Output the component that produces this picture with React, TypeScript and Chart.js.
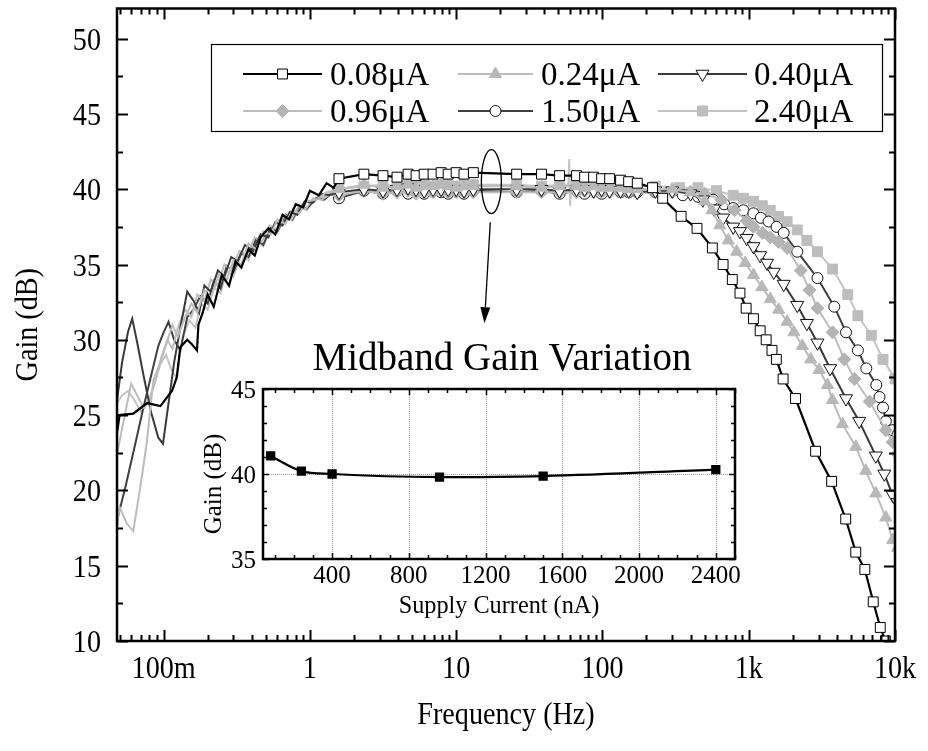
import React, { useEffect, useRef } from 'react';
import { Chart, registerables } from 'chart.js';

Chart.register(...registerables);

const FONT = "'Liberation Serif', 'Times New Roman', serif";

// ---------- main chart axes ----------
const xTickValues = [0.1, 1, 10, 100, 1000, 10000];
const xTickLabels = ['100m', '1', '10', '100', '1k', '10k'];
const yTickValues = [10, 15, 20, 25, 30, 35, 40, 45, 50];
const xMin = 0.048;
const xMax = 10000;
const yMin = 10;
const yMax = 52;
const xTitle = 'Frequency (Hz)';
const yTitle = 'Gain (dB)';

const seriesLabels = ['0.08μA', '0.24μA', '0.40μA', '0.96μA', '1.50μA', '2.40μA'];
const markFrom = 1.5; // markers drawn from this frequency on

// shared midband sweep frequencies (Hz)
const flatF = [1.58, 2.34, 3.16, 3.94, 4.69, 5.32, 6.04, 6.95, 7.89, 8.81, 10, 11.3, 13.1, 25.9, 38.3, 50.9, 66.5, 75.5, 87, 98.7, 112, 133, 151, 173];

// 0.08 uA
const lowF_A = [0.048, 0.050, 0.062, 0.077, 0.095, 0.114, 0.123, 0.130, 0.145, 0.156, 0.169, 0.173, 0.185, 0.20, 0.22, 0.25, 0.28, 0.31, 0.34, 0.38, 0.42, 0.46, 0.52, 0.58, 0.65, 0.72, 0.80, 0.90, 1.0, 1.15, 1.3, 1.45];
const lowG_A = [23.8, 25.0, 25.1, 25.8, 25.6, 26.6, 27.5, 29.5, 30.0, 29.7, 29.3, 31.0, 31.8, 33.0, 32.2, 34.3, 33.6, 35.2, 34.8, 36.0, 35.6, 36.8, 37.4, 37.0, 38.3, 38.0, 39.0, 38.8, 39.9, 39.6, 40.4, 40.1];
const flatG_A = [40.7, 41.0, 40.9, 40.8, 41.0, 40.9, 41.0, 41.0, 41.1, 41.0, 41.1, 41.0, 41.1, 41.0, 41.0, 40.9, 40.9, 40.8, 40.8, 40.7, 40.7, 40.6, 40.5, 40.4];
const rollF_A = [220, 258, 345, 443, 564, 668, 772, 871, 960, 1077, 1197, 1316, 1442, 1545, 1718, 2089, 2866, 3689, 4603, 5392, 6221, 7098, 7928, 8600];
const rollG_A = [40.1, 39.4, 38.2, 37.4, 36.1, 35.0, 34.0, 33.1, 32.1, 31.4, 30.6, 30.0, 29.3, 28.7, 27.4, 26.1, 22.6, 20.6, 18.1, 15.9, 14.75, 12.6, 10.9, 10.0];

// 0.24 uA
const lowF_B = [0.048, 0.050, 0.056, 0.062, 0.070, 0.077, 0.085, 0.095, 0.105, 0.115, 0.125, 0.14, 0.155, 0.17, 0.19, 0.21, 0.24, 0.27, 0.30, 0.34, 0.38, 0.43, 0.48, 0.54, 0.60, 0.68, 0.76, 0.85, 0.95, 1.1, 1.3, 1.45];
const lowG_B = [17.5, 18.9, 17.8, 17.3, 20.5, 23.3, 27.3, 28.5, 29.8, 31.0, 30.2, 31.5, 32.4, 31.8, 33.3, 32.8, 34.4, 34.0, 35.3, 35.0, 36.4, 36.0, 37.2, 37.0, 38.0, 37.7, 38.6, 38.4, 39.2, 39.3, 39.8, 39.9];
const flatG_B = [40.0, 40.3, 40.1, 40.2, 40.3, 40.1, 40.2, 40.2, 40.3, 40.2, 40.1, 40.2, 40.2, 40.2, 40.1, 40.2, 40.2, 40.1, 40.2, 40.1, 40.1, 40.1, 40.0, 40.0];
const rollF_B = [230, 300, 400, 500, 560, 634, 724, 827, 945, 1077, 1230, 1404, 1603, 1831, 2036, 2325, 2654, 3030, 3459, 3732, 4373, 5396, 6313, 7393, 8660, 9630, 10400];
const rollG_B = [40.0, 40.0, 39.8, 39.2, 38.6, 37.6, 36.6, 35.85, 35.1, 34.3, 33.5, 32.7, 32.0, 31.2, 30.5, 29.6, 28.7, 28.0, 27.0, 26.0, 24.4, 22.9, 21.3, 19.8, 18.2, 16.7, 16.2];

// 0.40 uA
const lowF_C = [0.048, 0.052, 0.057, 0.061, 0.066, 0.073, 0.082, 0.092, 0.099, 0.107, 0.118, 0.13, 0.145, 0.16, 0.175, 0.19, 0.21, 0.235, 0.26, 0.29, 0.32, 0.36, 0.41, 0.46, 0.52, 0.58, 0.65, 0.73, 0.82, 0.92, 1.05, 1.2, 1.35];
const lowG_C = [26.0, 28.5, 30.5, 31.4, 29.8, 27.6, 25.2, 23.5, 23.1, 25.5, 28.5, 30.8, 33.2, 32.6, 31.8, 33.6, 33.2, 34.6, 34.2, 35.5, 35.2, 36.3, 35.9, 37.0, 36.8, 37.8, 37.6, 38.5, 38.3, 39.2, 39.1, 39.7, 39.6];
const flatG_C = [39.8, 40.0, 39.9, 40.0, 40.1, 40.0, 39.9, 40.0, 40.0, 40.0, 40.0, 39.9, 40.0, 40.0, 40.0, 39.9, 40.0, 40.0, 39.9, 40.0, 39.9, 39.9, 39.9, 39.8];
const rollF_C = [230, 300, 400, 486, 580, 668, 783, 871, 968, 1077, 1197, 1334, 1483, 1735, 2147, 2500, 2951, 3600, 4625, 5691, 7393, 8450, 9630, 10400];
const rollG_C = [39.9, 39.9, 39.7, 39.3, 38.7, 38.1, 37.5, 37.2, 36.75, 36.2, 35.6, 35.1, 34.5, 33.7, 32.3, 31.1, 29.8, 28.1, 26.1, 24.6, 22.3, 21.1, 19.7, 19.2];

// 0.96 uA
const lowF_D = [0.048, 0.053, 0.060, 0.066, 0.073, 0.080, 0.088, 0.097, 0.106, 0.115, 0.125, 0.14, 0.155, 0.17, 0.19, 0.21, 0.235, 0.26, 0.29, 0.33, 0.37, 0.42, 0.47, 0.53, 0.60, 0.67, 0.75, 0.84, 0.94, 1.05, 1.2, 1.4];
const lowG_D = [22.4, 24.5, 27.1, 26.3, 25.5, 26.0, 27.3, 28.9, 30.0, 29.4, 30.8, 32.0, 31.5, 33.0, 32.6, 34.0, 33.6, 35.0, 34.6, 35.9, 35.6, 36.8, 36.5, 37.6, 37.3, 38.3, 38.0, 38.9, 38.7, 39.4, 39.3, 39.7];
const flatG_D = [39.6, 39.9, 39.7, 39.8, 39.9, 39.7, 39.8, 39.8, 39.9, 39.8, 39.8, 39.8, 39.8, 39.8, 39.8, 39.8, 39.8, 39.9, 39.8, 39.8, 39.8, 39.8, 39.8, 39.8];
const rollF_D = [230, 300, 400, 500, 650, 800, 968, 1077, 1240, 1404, 1600, 1831, 2265, 2600, 2951, 3741, 4508, 5286, 6705, 8660, 9630, 10400];
const rollG_D = [39.8, 39.8, 39.8, 39.7, 39.3, 38.6, 37.9, 37.5, 37.1, 36.8, 36.5, 36.1, 34.6, 33.3, 32.1, 30.5, 28.7, 27.4, 25.9, 24.0, 23.2, 22.4];

// 1.50 uA
const lowF_E = [0.048, 0.055, 0.063, 0.072, 0.082, 0.092, 0.100, 0.108, 0.118, 0.13, 0.145, 0.16, 0.178, 0.20, 0.22, 0.245, 0.27, 0.30, 0.34, 0.38, 0.43, 0.48, 0.54, 0.60, 0.68, 0.76, 0.85, 0.95, 1.1, 1.25, 1.4];
const lowG_E = [18.0, 20.3, 22.8, 25.3, 27.6, 29.6, 30.5, 31.2, 30.0, 29.3, 31.5, 32.0, 32.9, 32.4, 33.9, 33.4, 34.9, 34.5, 35.8, 35.5, 36.7, 36.3, 37.5, 37.2, 38.3, 38.0, 38.9, 38.7, 39.4, 39.3, 39.7];
const flatG_E = [39.4, 39.9, 39.7, 39.9, 39.7, 39.9, 39.7, 39.9, 39.8, 39.7, 39.9, 39.7, 39.9, 39.8, 39.9, 39.7, 39.9, 39.7, 39.9, 39.7, 39.9, 39.8, 39.8, 39.8];
const rollF_E = [230, 354, 450, 571, 680, 783, 920, 1077, 1210, 1368, 1550, 1735, 2147, 2951, 3846, 4625, 5573, 6367, 7452, 7834, 8280, 8660, 9630, 10400];
const rollG_E = [39.8, 39.6, 39.5, 39.3, 39.0, 38.75, 38.6, 38.4, 38.1, 37.85, 37.5, 37.1, 35.85, 34.1, 32.2, 30.5, 29.3, 28.1, 27.0, 26.2, 25.5, 24.6, 24.0, 23.7];

// 2.40 uA
const lowF_F = [0.048, 0.052, 0.057, 0.063, 0.070, 0.078, 0.086, 0.095, 0.104, 0.113, 0.122, 0.135, 0.15, 0.165, 0.18, 0.20, 0.22, 0.245, 0.27, 0.30, 0.34, 0.38, 0.43, 0.48, 0.54, 0.60, 0.68, 0.76, 0.85, 0.95, 1.1, 1.25, 1.4];
const lowG_F = [25.8, 26.3, 26.6, 26.0, 25.2, 25.8, 27.0, 28.4, 29.0, 28.0, 27.5, 30.2, 31.3, 30.8, 32.4, 32.0, 33.5, 33.1, 34.6, 34.2, 35.7, 35.3, 36.6, 36.2, 37.4, 37.1, 38.2, 37.9, 38.8, 38.6, 39.4, 39.5, 39.8];
const flatG_F = [40.0, 40.2, 40.3, 40.2, 40.3, 40.2, 40.3, 40.2, 40.3, 40.3, 40.2, 40.3, 40.3, 40.3, 40.2, 40.3, 40.3, 40.2, 40.3, 40.2, 40.2, 40.2, 40.2, 40.2];
const rollF_F = [230, 336, 450, 601, 783, 920, 1077, 1240, 1404, 1600, 1831, 2147, 2500, 2951, 3741, 4753, 5573, 6890, 8280, 10000, 10400];
const rollG_F = [40.2, 40.1, 40.1, 39.9, 39.6, 39.4, 39.2, 38.9, 38.6, 38.2, 37.85, 37.3, 36.6, 35.85, 34.7, 33.0, 31.6, 30.3, 28.7, 27.4, 27.0];

// narrow glitch in the 2.40 uA trace
const spikeF = [58.4, 59.3, 60.1, 61.0];
const spikeG = [40.2, 42.0, 38.9, 40.2];

// annotation (ellipse around the midband + arrow to the inset)
const ellipseF = 17.4;
const ellipseG = 40.5;
const arrowFromF = 17.1;
const arrowFromG = 37.8;
const arrowToF = 15.6;
const arrowToG = 31.1;

// ---------- inset ----------
const insetTitle = 'Midband Gain Variation';
const insetXTitle = 'Supply Current (nA)';
const insetYTitle = 'Gain (dB)';
const insetCurrents = [80, 240, 400, 960, 1500, 2400];
const insetGains = [41.06, 40.17, 40.0, 39.82, 39.88, 40.26];
const insetXTicks = [400, 800, 1200, 1600, 2000, 2400];
const insetYTicks = [35, 40, 45];
const insetXMin = 40;
const insetXMax = 2500;
const insetYMin = 35;
const insetYMax = 45;

type St = { line: string; lw: number; shape: string; rot: number; r: number; fill: string; edge: string };
const styles: St[] = [
  { line: '#000000', lw: 2.2, shape: 'rect', rot: 0, r: 7, fill: '#ffffff', edge: '#000000' },
  { line: '#bcbcbc', lw: 2, shape: 'triangle', rot: 0, r: 7, fill: '#b8b8b8', edge: '#b8b8b8' },
  { line: '#3a3a3a', lw: 2, shape: 'triangle', rot: 180, r: 7.5, fill: '#ffffff', edge: '#111111' },
  { line: '#bdbdbd', lw: 2, shape: 'rectRot', rot: 0, r: 6.5, fill: '#b4b4b4', edge: '#b4b4b4' },
  { line: '#404040', lw: 2, shape: 'circle', rot: 0, r: 5.5, fill: '#ffffff', edge: '#111111' },
  { line: '#c4c4c4', lw: 2, shape: 'rect', rot: 0, r: 7, fill: '#bdbdbd', edge: '#bdbdbd' },
];

function build(lf: number[], lg: number[], fg: number[], rf: number[], rg: number[]) {
  return [
    ...lf.map((x, i) => ({ x, y: lg[i] })),
    ...flatF.map((x, i) => ({ x, y: fg[i] })),
    ...rf.map((x, i) => ({ x, y: rg[i] })),
  ];
}

const seriesData = [
  build(lowF_A, lowG_A, flatG_A, rollF_A, rollG_A),
  build(lowF_B, lowG_B, flatG_B, rollF_B, rollG_B),
  build(lowF_C, lowG_C, flatG_C, rollF_C, rollG_C),
  build(lowF_D, lowG_D, flatG_D, rollF_D, rollG_D),
  build(lowF_E, lowG_E, flatG_E, rollF_E, rollG_E),
  build(lowF_F, lowG_F, flatG_F, rollF_F, rollG_F),
];

// text helper: baseline-anchored, optional horizontal squeeze and rotation
function drawText(
  ctx: CanvasRenderingContext2D,
  text: string,
  x: number,
  y: number,
  size: number,
  sx: number,
  align: CanvasTextAlign,
  rot = 0
) {
  ctx.save();
  ctx.translate(x, y);
  if (rot) ctx.rotate(rot);
  ctx.scale(sx, 1);
  ctx.font = `${size}px ${FONT}`;
  ctx.textAlign = align;
  ctx.textBaseline = 'alphabetic';
  ctx.fillStyle = '#000';
  ctx.fillText(text, 0, 0);
  ctx.restore();
}

function drawMarker(ctx: CanvasRenderingContext2D, st: St, x: number, y: number) {
  const r = st.r;
  ctx.beginPath();
  if (st.shape === 'rect') {
    const s = r * Math.SQRT1_2;
    ctx.rect(x - s, y - s, 2 * s, 2 * s);
  } else if (st.shape === 'circle') {
    ctx.arc(x, y, r, 0, Math.PI * 2);
  } else if (st.shape === 'rectRot') {
    ctx.moveTo(x, y - r);
    ctx.lineTo(x + r, y);
    ctx.lineTo(x, y + r);
    ctx.lineTo(x - r, y);
    ctx.closePath();
  } else {
    let a = (st.rot * Math.PI) / 180;
    for (let k = 0; k < 3; k++) {
      const px = x + Math.sin(a) * r;
      const py = y - Math.cos(a) * r;
      if (k === 0) ctx.moveTo(px, py);
      else ctx.lineTo(px, py);
      a += (2 * Math.PI) / 3;
    }
    ctx.closePath();
  }
  ctx.fillStyle = st.fill;
  ctx.fill();
  ctx.lineWidth = 1;
  ctx.strokeStyle = st.edge;
  ctx.stroke();
}

const AX_SIZE = 32;
const AX_SX = 0.88;

const mainDecor = {
  id: 'mainDecor',
  afterDatasetsDraw(chart: any) {
    const { ctx, chartArea: ca, scales } = chart;
    const xs = scales.x;
    const ys = scales.y;
    ctx.save();

    // ellipse + arrow
    const ex = xs.getPixelForValue(ellipseF);
    const ey = ys.getPixelForValue(ellipseG);
    ctx.strokeStyle = '#000';
    ctx.lineWidth = 1.3;
    ctx.beginPath();
    ctx.ellipse(ex, ey, 10, 32, 0, 0, Math.PI * 2);
    ctx.stroke();
    const ax0 = xs.getPixelForValue(arrowFromF);
    const ay0 = ys.getPixelForValue(arrowFromG);
    const ax1 = xs.getPixelForValue(arrowToF);
    const ay1 = ys.getPixelForValue(arrowToG);
    const ang = Math.atan2(ay1 - ay0, ax1 - ax0);
    const hl = 16;
    const hw = 5;
    ctx.beginPath();
    ctx.moveTo(ax0, ay0);
    ctx.lineTo(ax1 - Math.cos(ang) * hl, ay1 - Math.sin(ang) * hl);
    ctx.stroke();
    ctx.beginPath();
    ctx.moveTo(ax1, ay1);
    ctx.lineTo(ax1 - Math.cos(ang) * hl - Math.sin(ang) * hw, ay1 - Math.sin(ang) * hl + Math.cos(ang) * hw);
    ctx.lineTo(ax1 - Math.cos(ang) * hl + Math.sin(ang) * hw, ay1 - Math.sin(ang) * hl - Math.cos(ang) * hw);
    ctx.closePath();
    ctx.fillStyle = '#000';
    ctx.fill();

    // ticks (inward) on all four sides
    ctx.strokeStyle = '#000';
    ctx.lineWidth = 2;
    const xTicksAll: { v: number; major: boolean }[] = [];
    for (let e = -2; e <= 4; e++) {
      const d = Math.pow(10, e);
      for (let m = 1; m < 10; m++) {
        const v = d * m;
        if (v >= xMin && v <= xMax * 1.0001) xTicksAll.push({ v, major: m === 1 });
      }
    }
    xTicksAll.forEach((t) => {
      const px = Math.round(xs.getPixelForValue(t.v)) + 0.5;
      const len = t.major ? 11 : 6;
      ctx.beginPath();
      ctx.moveTo(px, ca.bottom);
      ctx.lineTo(px, ca.bottom - len);
      ctx.moveTo(px, ca.top);
      ctx.lineTo(px, ca.top + len);
      ctx.stroke();
    });
    for (let v = yMin; v <= yMax; v += 2.5) {
      const py = Math.round(ys.getPixelForValue(v)) + 0.5;
      const len = v % 5 === 0 ? 11 : 6;
      ctx.beginPath();
      ctx.moveTo(ca.left, py);
      ctx.lineTo(ca.left + len, py);
      ctx.moveTo(ca.right, py);
      ctx.lineTo(ca.right - len, py);
      ctx.stroke();
    }

    // frame
    ctx.lineWidth = 2.5;
    ctx.strokeRect(ca.left, ca.top, ca.right - ca.left, ca.bottom - ca.top);

    // tick labels from the scales
    xTickValues.forEach((v, i) => {
      drawText(ctx, xTickLabels[i], xs.getPixelForValue(v), ca.bottom + 37, AX_SIZE, AX_SX, 'center');
    });
    yTickValues.forEach((v) => {
      drawText(ctx, String(v), ca.left - 16, ys.getPixelForValue(v) + 11, AX_SIZE, AX_SX, 'right');
    });
    // axis titles
    drawText(ctx, xTitle, (ca.left + ca.right) / 2, 724, AX_SIZE, AX_SX, 'center');
    drawText(ctx, yTitle, 37, (ca.top + ca.bottom) / 2, AX_SIZE, AX_SX, 'center', -Math.PI / 2);

    // legend
    const bx = 211, by = 44, bw = 671, bh = 87;
    ctx.fillStyle = '#fff';
    ctx.fillRect(bx, by, bw, bh);
    ctx.lineWidth = 1.2;
    ctx.strokeStyle = '#000';
    ctx.strokeRect(bx + 0.5, by + 0.5, bw, bh);
    const lineX0 = [243, 458, 658];
    const lineX1 = [322, 533, 747];
    const textX = [330, 541, 754];
    const rowY = [74, 111];
    seriesLabels.forEach((lab, i) => {
      const st = styles[i];
      const c = i % 3;
      const y0 = rowY[Math.floor(i / 3)];
      ctx.strokeStyle = st.line;
      ctx.lineWidth = st.lw;
      ctx.beginPath();
      ctx.moveTo(lineX0[c], y0);
      ctx.lineTo(lineX1[c], y0);
      ctx.stroke();
      drawMarker(ctx, st, (lineX0[c] + lineX1[c]) / 2, y0);
      drawText(ctx, lab, textX[c], y0 + 11, 33, 1, 'left');
    });

    ctx.restore();
  },
};

const insetDecor = {
  id: 'insetDecor',
  beforeDatasetsDraw(chart: any) {
    const { ctx, chartArea: ca, scales } = chart;
    ctx.save();
    ctx.strokeStyle = '#9a9a9a';
    ctx.lineWidth = 1;
    ctx.setLineDash([1, 1]);
    insetXTicks.forEach((v) => {
      const px = Math.round(scales.x.getPixelForValue(v)) + 0.5;
      ctx.beginPath();
      ctx.moveTo(px, ca.top);
      ctx.lineTo(px, ca.bottom);
      ctx.stroke();
    });
    const py = Math.round(scales.y.getPixelForValue(40)) + 0.5;
    ctx.beginPath();
    ctx.moveTo(ca.left, py);
    ctx.lineTo(ca.right, py);
    ctx.stroke();
    ctx.restore();
  },
  afterDatasetsDraw(chart: any) {
    const { ctx, chartArea: ca, scales } = chart;
    ctx.save();
    ctx.strokeStyle = '#000';
    ctx.lineWidth = 1.5;
    for (let v = 100; v <= insetXMax; v += 100) {
      if (v < insetXMin) continue;
      const px = Math.round(scales.x.getPixelForValue(v)) + 0.5;
      const len = v % 400 === 0 ? 6 : 4;
      ctx.beginPath();
      ctx.moveTo(px, ca.bottom);
      ctx.lineTo(px, ca.bottom - len);
      ctx.moveTo(px, ca.top);
      ctx.lineTo(px, ca.top + len);
      ctx.stroke();
    }
    for (let v = insetYMin; v <= insetYMax; v += 1) {
      const py = Math.round(scales.y.getPixelForValue(v)) + 0.5;
      const len = v % 5 === 0 ? 6 : 4;
      ctx.beginPath();
      ctx.moveTo(ca.left, py);
      ctx.lineTo(ca.left + len, py);
      ctx.moveTo(ca.right, py);
      ctx.lineTo(ca.right - len, py);
      ctx.stroke();
    }
    ctx.lineWidth = 2.5;
    ctx.strokeRect(ca.left, ca.top, ca.right - ca.left, ca.bottom - ca.top);

    // texts
    insetXTicks.forEach((v) => {
      drawText(ctx, String(v), scales.x.getPixelForValue(v), ca.bottom + 24, 25, 1, 'center');
    });
    insetYTicks.forEach((v) => {
      drawText(ctx, String(v), ca.left - 7, scales.y.getPixelForValue(v) + 8.5, 25, 1, 'right');
    });
    drawText(ctx, insetXTitle, (ca.left + ca.right) / 2, ca.bottom + 54, 25, 0.97, 'center');
    drawText(ctx, insetYTitle, 31, (ca.top + ca.bottom) / 2 + 10, 25, 1, 'center', -Math.PI / 2);
    drawText(ctx, insetTitle, (ca.left + ca.right) / 2 + 3, 40, 39, 1, 'center');
    ctx.restore();
  },
};

export default function App() {
  const mainRef = useRef<HTMLCanvasElement>(null);
  const insetRef = useRef<HTMLCanvasElement>(null);

  useEffect(() => {
    const datasets: any[] = seriesData.map((pts, i) => ({
      label: seriesLabels[i],
      data: pts,
      borderColor: styles[i].line,
      borderWidth: styles[i].lw,
      pointStyle: styles[i].shape,
      pointRotation: styles[i].rot,
      pointRadius: (c: any) => (c.raw && c.raw.x >= markFrom ? styles[i].r : 0),
      pointBackgroundColor: styles[i].fill,
      pointBorderColor: styles[i].edge,
      pointBorderWidth: 1,
      tension: 0,
      fill: false,
    }));
    datasets.push({
      label: 'glitch',
      data: spikeF.map((x, i) => ({ x, y: spikeG[i] })),
      borderColor: styles[5].line,
      borderWidth: 2,
      pointRadius: 0,
      fill: false,
    });

    const main = new Chart(mainRef.current as HTMLCanvasElement, {
      type: 'line',
      data: { datasets },
      options: {
        responsive: false,
        animation: false,
        events: [],
        layout: { padding: { left: 0, right: 33, top: 7, bottom: 0 } },
        scales: {
          x: {
            type: 'logarithmic',
            min: xMin,
            max: xMax,
            afterBuildTicks: (s: any) => {
              s.ticks = xTickValues.map((v) => ({ value: v }));
            },
            afterFit: (s: any) => {
              s.height = 110;
            },
            grid: { display: false, drawTicks: false },
            border: { display: false },
            ticks: { display: false, padding: 0 },
            title: { display: false },
          },
          y: {
            type: 'linear',
            min: yMin,
            max: yMax,
            afterBuildTicks: (s: any) => {
              s.ticks = yTickValues.map((v) => ({ value: v }));
            },
            afterFit: (s: any) => {
              s.width = 117;
            },
            grid: { display: false, drawTicks: false },
            border: { display: false },
            ticks: { display: false, padding: 0 },
            title: { display: false },
          },
        },
        plugins: { legend: { display: false }, tooltip: { enabled: false } },
      } as any,
      plugins: [mainDecor],
    });

    const inset = new Chart(insetRef.current as HTMLCanvasElement, {
      type: 'line',
      data: {
        datasets: [
          {
            label: 'Midband gain',
            data: insetCurrents.map((x, i) => ({ x, y: insetGains[i] })),
            borderColor: '#000',
            borderWidth: 2.2,
            pointStyle: 'rect',
            pointRadius: 5,
            pointBackgroundColor: '#000',
            pointBorderColor: '#000',
            cubicInterpolationMode: 'monotone',
            fill: false,
          },
        ],
      },
      options: {
        responsive: false,
        animation: false,
        events: [],
        layout: { padding: { left: 0, right: 15, top: 59, bottom: 0 } },
        scales: {
          x: {
            type: 'linear',
            min: insetXMin,
            max: insetXMax,
            afterBuildTicks: (s: any) => {
              s.ticks = insetXTicks.map((v) => ({ value: v }));
            },
            afterFit: (s: any) => {
              s.height = 66;
            },
            grid: { display: false, drawTicks: false },
            border: { display: false },
            ticks: { display: false, padding: 0 },
            title: { display: false },
          },
          y: {
            type: 'linear',
            min: insetYMin,
            max: insetYMax,
            afterBuildTicks: (s: any) => {
              s.ticks = insetYTicks.map((v) => ({ value: v }));
            },
            afterFit: (s: any) => {
              s.width = 73;
            },
            grid: { display: false, drawTicks: false },
            border: { display: false },
            ticks: { display: false, padding: 0 },
            title: { display: false },
          },
        },
        plugins: { legend: { display: false }, tooltip: { enabled: false } },
      } as any,
      plugins: [insetDecor],
    });

    return () => {
      main.destroy();
      inset.destroy();
    };
  }, []);

  return (
    <div style={{ position: 'absolute', left: 0, top: 0, width: 928, height: 751, background: '#fff' }}>
      <canvas ref={mainRef} width={928} height={751} style={{ position: 'absolute', left: 0, top: 0 }} />
      <canvas ref={insetRef} width={560} height={295} style={{ position: 'absolute', left: 190, top: 330 }} />
    </div>
  );
}
